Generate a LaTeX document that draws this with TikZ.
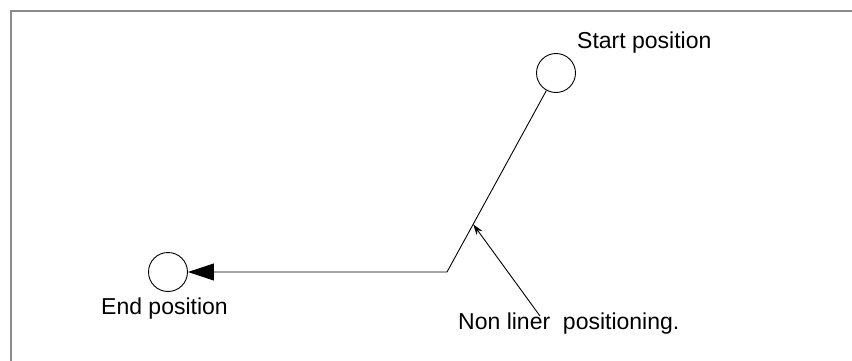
\documentclass[tikz,border=0pt]{standalone}
\usepackage{fontspec}
\setmainfont{Liberation Sans}
\usetikzlibrary{arrows.meta,calc}
\definecolor{FrameGray}{HTML}{8C8C8C}

\begin{document}
\begin{tikzpicture}[x=1pt,y=-1pt,
  spot/.style={circle,draw,line width=0.9pt,minimum size=39pt,inner sep=0pt},
  spottext/.style={inner sep=0pt,anchor=base west,font=\fontsize{23}{27}\selectfont},
  link/.style={draw,line width=0.9pt},
  frame/.style={draw=FrameGray,line width=2pt}
]
\useasboundingbox (0,0) rectangle (852,361);
\draw[frame] (11,361) -- (11,11) -- (852,11);
\node[spot] (start) at (556,73) {};
\node[spot] (end) at (168,272) {};
\coordinate (bend) at (447,272);
\node[spottext] (starttxt) at (577,49) {Start position};
\node[spottext] (endtxt) at (101,314) {End position};
\node[spottext] (note) at (458,329) {Non liner\ \ positioning.};
\draw[link,-{Triangle[length=26pt,width=17pt]}] (start) -- (bend) -- (end);
\coordinate (hit) at ($(bend)!0.24!(start)$);
\coordinate (tail) at (540,316);
\draw[link,-{Stealth[length=11pt,width=7pt]}] (tail) -- (hit);
\end{tikzpicture}
\end{document}
